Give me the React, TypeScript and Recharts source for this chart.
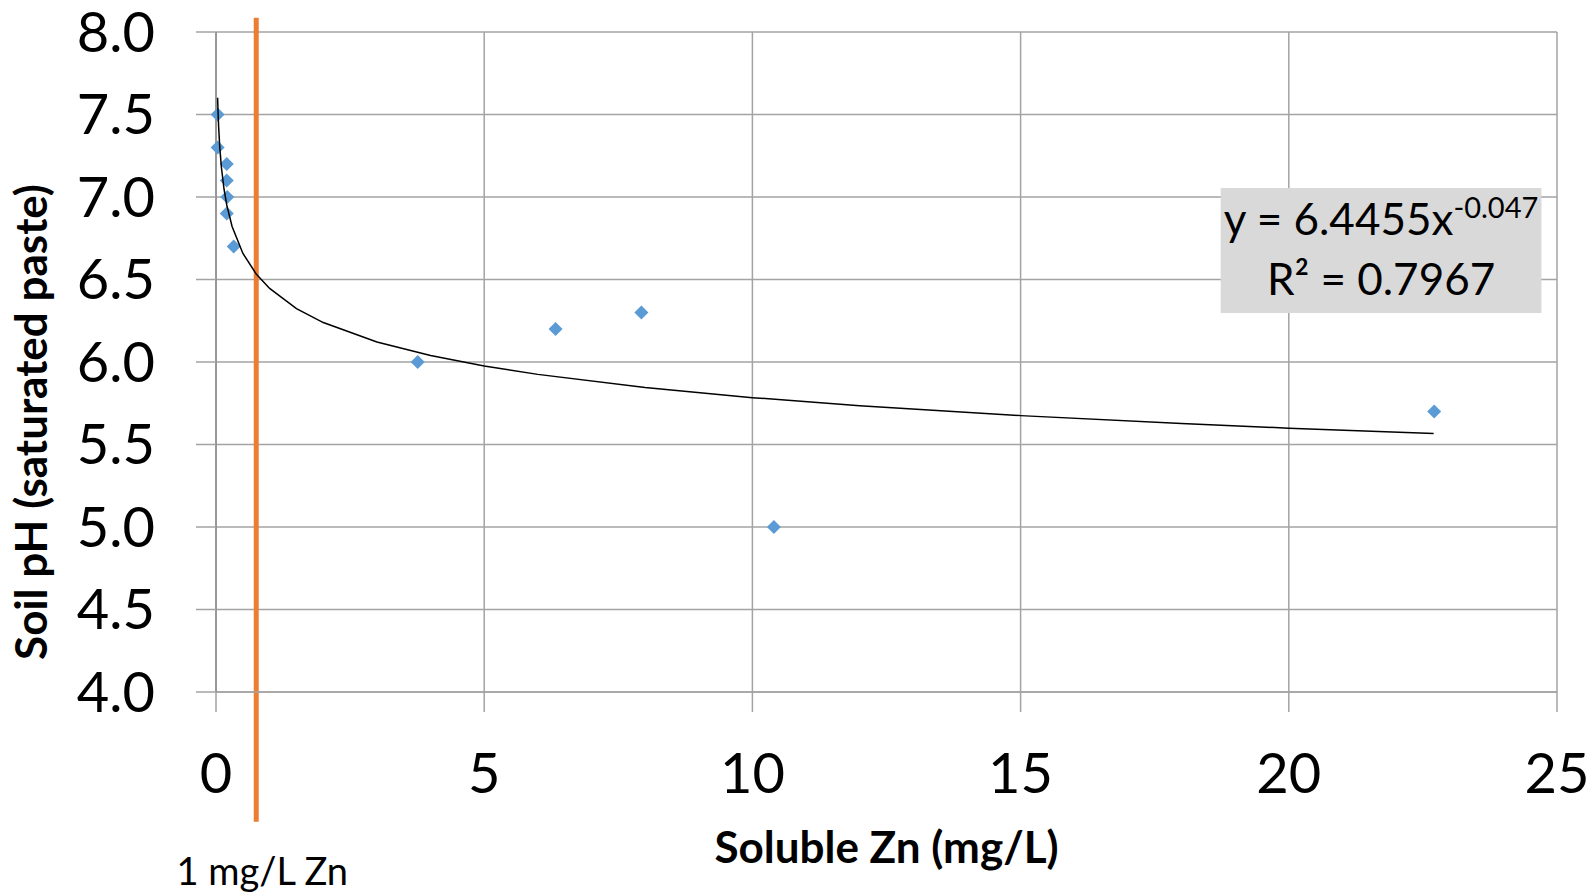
import React from 'react';
import {
  ScatterChart, Scatter, XAxis, YAxis, CartesianGrid, ReferenceLine, ReferenceArea, Label,
} from 'recharts';

// measured points: soluble Zn (mg/L) vs soil pH
const zn = [0.03, 0.03, 0.2, 0.2, 0.21, 0.2, 0.33, 3.76, 6.33, 7.93, 10.4, 22.71];
const ph = [7.5, 7.3, 7.2, 7.1, 7.0, 6.9, 6.7, 6.0, 6.2, 6.3, 5.0, 5.7];

// power trendline
const trendZn = [0.03, 0.04, 0.05, 0.07, 0.1, 0.15, 0.2, 0.3, 0.5, 0.75, 1, 1.5, 2, 3, 4, 5, 6, 8, 10, 12, 15, 18, 20, 22.7];
const trendPh = [7.601, 7.498, 7.42, 7.304, 7.182, 7.047, 6.952, 6.821, 6.659, 6.533, 6.446, 6.324, 6.239, 6.121, 6.039, 5.976, 5.925, 5.845, 5.784, 5.735, 5.675, 5.627, 5.599, 5.566];

const xTicks = [0, 5, 10, 15, 20, 25];
const yTicks = [4, 4.5, 5, 5.5, 6, 6.5, 7, 7.5, 8];

const points = zn.map((x, i) => ({ x, y: ph[i] }));
const trend = trendZn.map((x, i) => ({ x, y: trendPh[i] }));

const FONT = 'Lato, "Open Sans", sans-serif';
const GRID = '#a3a3a3';

const Diamond = (p: any) => {
  const { cx, cy } = p;
  const r = 7;
  return <path d={`M${cx},${cy - r}L${cx + r},${cy}L${cx},${cy + r}L${cx - r},${cy}Z`} fill="#5B9BD5" />;
};

export default function App() {
  return (
    <div style={{ position: 'absolute', left: 0, top: 0, width: 1595, height: 896, background: '#fff', fontFamily: FONT }}>
      <ScatterChart width={1595} height={896} margin={{ top: 32, right: 38, bottom: 0, left: 0 }}>
        <CartesianGrid stroke={GRID} strokeWidth={1.5} />
        <XAxis
          type="number" dataKey="x" domain={[0, 25]} ticks={xTicks} height={204}
          tick={{ fill: '#000', fontSize: 56, fontFamily: FONT }}
          tickSize={20} tickMargin={41} tickLine={{ stroke: GRID, strokeWidth: 1.5 }}
          axisLine={{ stroke: GRID, strokeWidth: 1.5 }}
        >
          <Label
            content={({ viewBox }: any) => (
              <text x={viewBox.x + viewBox.width / 2} y={863} textAnchor="middle"
                fontFamily={FONT} fontWeight="bold" fontSize={44} fill="#000">
                Soluble Zn (mg/L)
              </text>
            )}
          />
        </XAxis>
        <YAxis
          type="number" dataKey="y" domain={[4, 8]} ticks={yTicks} width={216}
          tickFormatter={(v: number) => v.toFixed(1)}
          tick={{ fill: '#000', fontSize: 56, fontFamily: FONT }}
          tickSize={20} tickMargin={41} tickLine={{ stroke: GRID, strokeWidth: 1.5 }}
          axisLine={{ stroke: '#8c8c8c', strokeWidth: 1.5 }}
        >
          <Label
            content={() => (
              <text x={0} y={0} transform="translate(47,422) rotate(-90)" textAnchor="middle"
                fontFamily={FONT} fontWeight="bold" fontSize={44} fill="#000">
                Soil pH (saturated paste)
              </text>
            )}
          />
        </YAxis>
        <ReferenceArea
          x1={18.73} x2={24.71} y1={6.297} y2={7.055}
          fill="#d9d9d9" fillOpacity={1} stroke="none"
          label={({ viewBox }: any) => (
            <text textAnchor="middle" fontFamily={FONT} fontSize={44} fill="#000">
              <tspan x={viewBox.x + viewBox.width / 2} y={viewBox.y + 47}>
                y = 6.4455x<tspan fontSize={29} dy={-17}>-0.047</tspan>
              </tspan>
              <tspan x={viewBox.x + viewBox.width / 2} y={viewBox.y + 107}>R² = 0.7967</tspan>
            </text>
          )}
        />
        <Scatter data={points} shape={Diamond} isAnimationActive={false} />
        <Scatter
          data={trend} line={{ stroke: '#000', strokeWidth: 1.5 }} lineType="joint"
          shape={() => <g />} isAnimationActive={false}
        />
        <ReferenceLine
          segment={[{ x: 0.75, y: 8.087 }, { x: 0.75, y: 3.214 }]}
          ifOverflow="visible" stroke="#ED7D31" strokeWidth={5}
          label={({ viewBox }: any) => (
            <text x={viewBox.x + 6} y={viewBox.y + viewBox.height + 63} textAnchor="middle"
              fontFamily={FONT} fontSize={38} fill="#000">
              1 mg/L Zn
            </text>
          )}
        />
      </ScatterChart>
    </div>
  );
}
